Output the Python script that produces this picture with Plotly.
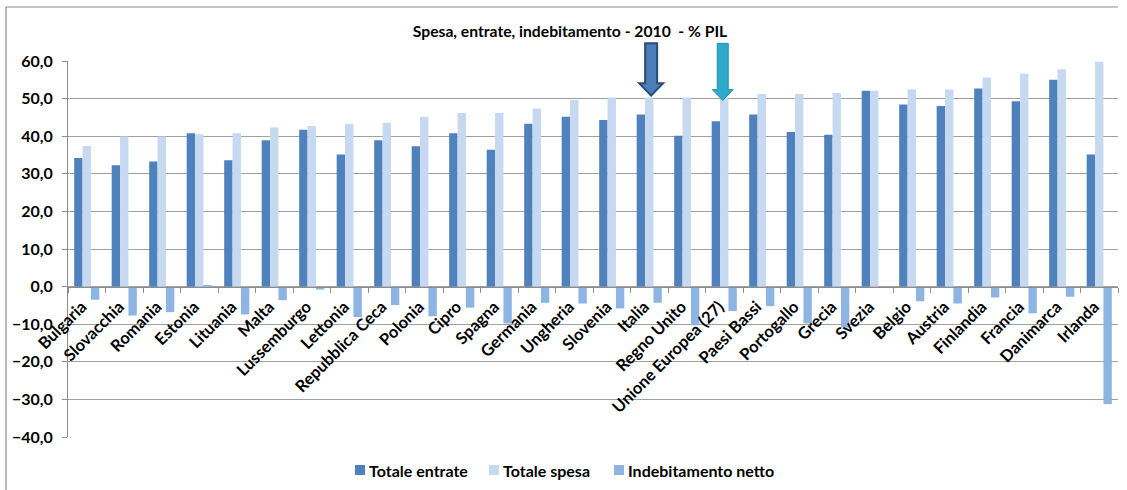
import plotly.graph_objects as go

categories = ["Bulgaria", "Slovacchia", "Romania", "Estonia", "Lituania", "Malta",
              "Lussemburgo", "Lettonia", "Repubblica Ceca", "Polonia", "Cipro", "Spagna",
              "Germania", "Ungheria", "Slovenia", "Italia", "Regno Unito",
              "Unione Europea (27)", "Paesi Bassi", "Portogallo", "Grecia", "Svezia",
              "Belgio", "Austria", "Finlandia", "Francia", "Danimarca", "Irlanda"]
totale_entrate = [34.2, 32.3, 33.3, 40.8, 33.6, 38.9, 41.7, 35.1, 38.9, 37.3, 40.8, 36.4,
                  43.3, 45.2, 44.3, 45.8, 40.1, 44.0, 45.8, 41.1, 40.4, 52.1,
                  48.4, 48.0, 52.7, 49.3, 55.0, 35.1]
totale_spesa = [37.4, 39.9, 39.9, 40.5, 40.8, 42.3, 42.7, 43.3, 43.6, 45.2, 46.2, 46.2,
                47.4, 49.6, 50.3, 50.3, 50.3, 50.3, 51.2, 51.2, 51.5, 52.1,
                52.4, 52.4, 55.6, 56.6, 57.8, 59.8]
indebitamento_netto = [-3.5, -7.7, -6.8, 0.2, -7.4, -3.6, -0.8, -8.1, -4.9, -7.9, -5.6, -9.8,
                       -4.3, -4.5, -5.8, -4.3, -10.3, -6.5, -5.2, -9.8, -10.9, 0.0,
                       -3.9, -4.5, -2.9, -7.1, -2.7, -31.2]
y_ticks = [-40, -30, -20, -10, 0, 10, 20, 30, 40, 50, 60]
series_names = ["Totale entrate", "Totale spesa", "Indebitamento netto"]
series_colors = ["#4F81BD", "#C6D9F1", "#8EB4E3"]

FONT = "Lato"
W, H = 1127, 490
ML, MR, MT, MB = 68, 9, 61, 53
PW, PH = W - ML - MR, H - MT - MB
Y0, Y1 = -40, 60
N = len(categories)

fig = go.Figure()
for name, vals, col in zip(series_names, [totale_entrate, totale_spesa, indebitamento_netto],
                           series_colors):
    fig.add_trace(go.Bar(name=name, x=categories, y=vals, showlegend=False,
                         marker=dict(color=col, line=dict(width=0))))


def px2paper(x, y):
    return (x - ML) / PW, (MT + PH - y) / PH


def cat2paper(idx):
    return (idx + 0.5) / N


def val2paper(v):
    return (v - Y0) / (Y1 - Y0)


def arrow_path(ci, top, head, tip, shaft_hw, head_hw):
    xc = cat2paper(ci)
    pts = [(xc - shaft_hw, top), (xc + shaft_hw, top), (xc + shaft_hw, head),
           (xc + head_hw, head), (xc, tip), (xc - head_hw, head), (xc - shaft_hw, head)]
    return "M " + " L ".join(f"{px:.5f},{py:.5f}" for px, py in pts) + " Z"


shapes = []
annotations = []
# outer frame (left and top edges)
fx0, fy0 = px2paper(6, 7)
fx1, fy1 = px2paper(1118, 7)
_, fyb = px2paper(6, 492)
shapes.append(dict(type="line", xref="paper", yref="paper", x0=fx0, y0=fy0, x1=fx1, y1=fy1,
                   line=dict(color="#8C8C8C", width=1.2)))
shapes.append(dict(type="line", xref="paper", yref="paper", x0=fx0, y0=fy0, x1=fx0, y1=fyb,
                   line=dict(color="#8C8C8C", width=1.2)))

# arrows pointing at Italia and Unione Europea (27)
cw = 1.0 / N / 37.5  # paper units per pixel horizontally
i_it = categories.index("Italia")
i_ue = categories.index("Unione Europea (27)")
shapes.append(dict(type="path", xref="paper", yref="paper",
                   path=arrow_path(i_it + 0.05, val2paper(64.7), val2paper(54.1), val2paper(50.8),
                                   6 * cw, 12 * cw),
                   fillcolor="#4A7EBB", line=dict(color="#2C4D75", width=2), layer="above"))
shapes.append(dict(type="path", xref="paper", yref="paper",
                   path=arrow_path(i_ue - 0.04, val2paper(64.7), val2paper(52.4), val2paper(49.5),
                                   5.5 * cw, 10.5 * cw),
                   fillcolor="#2EA9C9", line=dict(color="#2891AD", width=1), layer="above"))

# legend (drawn manually for Excel-like compact spacing)
legend_px = [355, 489, 614]
LEG_Y = 470
for name, col, lx in zip(series_names, series_colors, legend_px):
    ax0, ay0 = px2paper(lx, LEG_Y + 5)
    ax1, ay1 = px2paper(lx + 10, LEG_Y - 5)
    shapes.append(dict(type="rect", xref="paper", yref="paper", x0=ax0, y0=ay0, x1=ax1, y1=ay1,
                       fillcolor=col, line=dict(width=0)))
    tx, ty = px2paper(lx + 12, LEG_Y)
    annotations.append(dict(xref="paper", yref="paper", x=tx, y=ty, xanchor="left",
                            yanchor="middle", showarrow=False, text=f"<b>{name}</b>",
                            font=dict(family=FONT, size=16, color="#000000")))

fig.update_layout(
    width=W, height=H, autosize=False,
    margin=dict(l=ML, r=MR, t=MT, b=MB, autoexpand=False),
    paper_bgcolor="white", plot_bgcolor="white",
    separators=",.",
    barmode="group", bargap=0.33, bargroupgap=0,
    showlegend=False,
    font=dict(family=FONT, size=15, color="#000000"),
    title=dict(text="<b>Spesa, entrate, indebitamento - 2010  - % PIL</b>",
               x=570 / W, xref="container", xanchor="center",
               y=1 - 32 / H, yref="container", yanchor="middle",
               font=dict(family=FONT, size=15.7, color="#000000")),
    xaxis=dict(type="category", anchor="free", position=val2paper(0), automargin=False,
               showline=True, linecolor="#8C8C8C", linewidth=1,
               ticks="outside", ticklen=5, tickcolor="#8C8C8C", tickson="boundaries",
               tickangle=-45, showgrid=False, ticklabelstandoff=3, ticklabelshift=-5,
               tickfont=dict(family=FONT, size=16.5, color="#000000", weight="bold"),
               range=[-0.5, N - 0.5]),
    yaxis=dict(range=[Y0, Y1], tickvals=y_ticks, tickformat=".1f", automargin=False,
               showgrid=True, gridcolor="#A0A0A0", gridwidth=1,
               zeroline=False, showline=True, linecolor="#8C8C8C", linewidth=1,
               ticks="outside", ticklen=5, tickcolor="#8C8C8C",
               ticklabelstandoff=6,
               tickfont=dict(family=FONT, size=16, color="#000000", weight="bold")),
    shapes=shapes,
    annotations=annotations,
)

fig.write_html("out.html", config={"displayModeBar": False},
               post_script="document.body.style.margin='0px';document.body.style.overflow='hidden';")
